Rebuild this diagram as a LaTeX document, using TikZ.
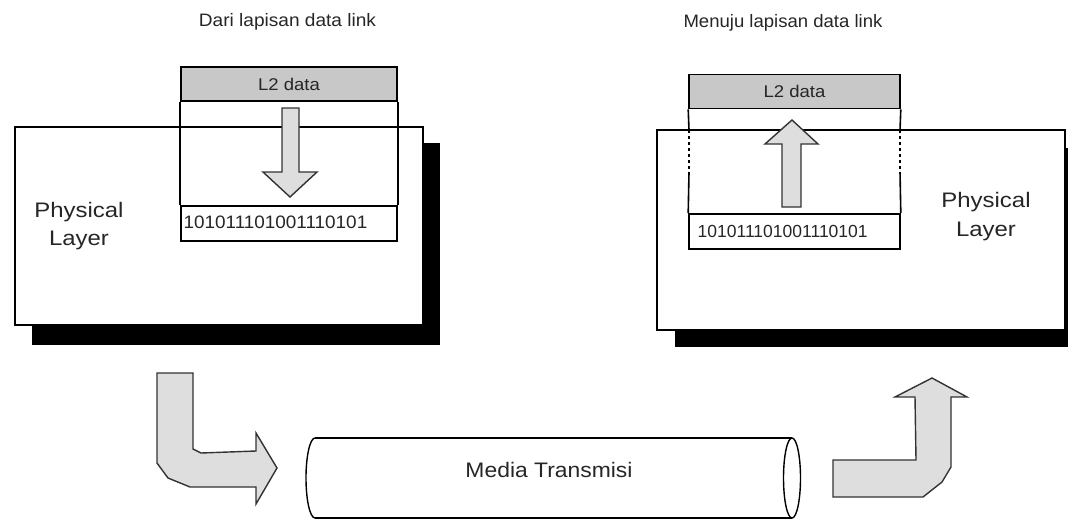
\documentclass[tikz,border=0pt]{standalone}
\usepackage{fontspec}
\setmainfont{Liberation Sans}
\usepackage{graphicx}
\definecolor{bandgray}{HTML}{C8C8C8}
\definecolor{arrowgray}{HTML}{DEDEDE}
\definecolor{txt}{HTML}{262626}
\tikzset{
  shadowbox/.style={fill=black, draw=none, inner sep=0pt, minimum width=408pt, minimum height=200pt},
  layerbox/.style={fill=white, draw=black, line width=1.6pt, inner sep=0pt, minimum width=408pt, minimum height=200pt},
  bandbox/.style={fill=bandgray, draw=black, line width=1.6pt, inner sep=0pt, minimum height=34pt, text=txt, font=\fontsize{17}{20}\selectfont},
  bitsbox/.style={fill=white, draw=black, line width=1.6pt, inner sep=0pt, minimum height=35pt},
  edge/.style={draw=black, line width=1.6pt},
  blockarrow/.style={fill=arrowgray, draw=black!80, line width=1.4pt, line join=miter},
  lbl/.style={text=txt, inner sep=0pt},
}
\begin{document}
\begin{tikzpicture}[x=1pt,y=-1pt]
\useasboundingbox (0,0) rectangle (1068,520);

% ---------- left side ----------
\node[lbl, anchor=base, font=\fontsize{18}{21}\selectfont] (ltitle) at (287.5,26.5) {\scalebox{1.06}[1]{Dari lapisan data link}};
\node[shadowbox, minimum height=202pt] (lshadow) at (236,244) {};
\node[layerbox, minimum height=198pt] (lbox) at (219,226) {};
\node[lbl, align=center, font=\fontsize{21}{28}\selectfont] (lphys) at (79,226) {\scalebox{1.14}[1]{Physical}\\\scalebox{1.14}[1]{Layer}};
\node[bandbox, minimum width=216pt] (lband) at (289,84) {\scalebox{1.09}[1]{L2 data}};
\node[bitsbox, minimum width=216pt] (lbits) at (289,223.5) {};
\node[lbl, anchor=base west, font=\fontsize{18}{21}\selectfont] (lbitstext) at (183.5,228) {\scalebox{1.05}[1]{101011101001110101}};
\draw[edge] (lband.south west) -- (lbits.north west);
\draw[edge] (lband.south east) -- (lbits.north east);
\draw[blockarrow] (282,108) -- (299,108) -- (299,172) -- (317,172) -- (290,197) -- (263,172) -- (282,172) -- cycle;

% ---------- right side ----------
\node[lbl, anchor=base, font=\fontsize{18}{21}\selectfont] (rtitle) at (783,27) {\scalebox{1.03}[1]{Menuju lapisan data link}};
\fill[black] (675,148) rectangle (1068,347);
\node[layerbox] (rbox) at (861,230) {};
\node[lbl, align=center, font=\fontsize{21}{29}\selectfont] (rphys) at (986,217) {\scalebox{1.14}[1]{Physical}\\\scalebox{1.14}[1]{Layer}};
\node[bandbox, minimum width=211pt] (rband) at (794.5,91.5) {\scalebox{1.09}[1]{L2 data}};
\node[bitsbox, minimum width=211pt] (rbits) at (794.5,231.5) {};
\node[lbl, anchor=base west, font=\fontsize{17.5}{21}\selectfont] (rbitstext) at (697.5,237) {\scalebox{1.0}[1]{101011101001110101}};
\coordinate (rl1) at (689,130);
\coordinate (rl2) at (689,172);
\coordinate (rr1) at (900,130);
\coordinate (rr2) at (900,172);
\draw[edge] (rband.south west) -- (rl1);
\draw[edge, dashed, dash pattern=on 3pt off 3pt] (rl1) -- (rl2);
\draw[edge] (rl2) -- (rbits.north west);
\draw[edge] (rband.south east) -- (rr1);
\draw[edge, dashed, dash pattern=on 3pt off 3pt] (rr1) -- (rr2);
\draw[edge] (rr2) -- (rbits.north east);
\draw[blockarrow] (782,207) -- (801,207) -- (801,144) -- (818,144) -- (792,120) -- (765,144) -- (782,144) -- cycle;

% ---------- transmission medium ----------
\node[lbl, anchor=base, font=\fontsize{21}{24}\selectfont] (media) at (549,477) {\scalebox{1.09}[1]{Media Transmisi}};
\coordinate (ctl) at (315,438);
\coordinate (cbl) at (315,518);
\coordinate (ctr) at (792,438);
\coordinate (cbr) at (792,518);
\draw[edge, line width=1.4pt] (ctl) -- (ctr);
\draw[edge, line width=1.4pt] (cbl) -- (cbr);
\draw[edge, line width=1.4pt] (ctl) arc[start angle=90, end angle=270, x radius=9, y radius=-40];
\draw[edge, line width=1.4pt] (792,478) ellipse[x radius=8.5, y radius=40];

% ---------- bent arrows ----------
\draw[blockarrow] (157,373) -- (193,373) -- (193,449) -- (201,453) -- (256,451) -- (256,433) -- (277,468) -- (256,504) -- (256,487) -- (190,487) -- (168,478) -- (157,463) -- cycle;
\draw[blockarrow] (833,497) -- (833,460) -- (916,460) -- (915,397) -- (895,397) -- (932,378) -- (967,397) -- (951,397) -- (951,467) -- (942,482) -- (923,497) -- cycle;
\end{tikzpicture}
\end{document}
